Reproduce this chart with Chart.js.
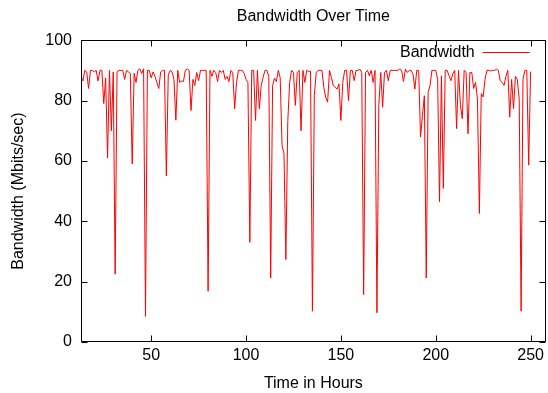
<!DOCTYPE html>
<html>
<head>
<meta charset="utf-8">
<title>Bandwidth Over Time</title>
<script src="https://cdn.jsdelivr.net/npm/chart.js@4.4.1/dist/chart.umd.min.js"></script>
<style>
  html, body { margin: 0; padding: 0; background: #fff; }
  #wrap { width: 548px; height: 393px; }
</style>
</head>
<body>
<div id="wrap"><canvas id="grafico" width="548" height="393"></canvas></div>
<script>
// hora inicial da serie (um ponto por hora)
const startHour = 13;
const bandwidth = [
  88, 86.5, 90, 89.5, 84, 90, 90, 89.5, 90, 86.5,
  90, 90, 79, 87.5, 61, 90, 70, 89.5, 22.5, 89.5,
  90, 90, 90, 87, 90, 89.5, 89, 59, 89, 86,
  90, 90.5, 89, 90.5, 8.5, 90, 90, 87.5, 89.5, 88,
  86, 84, 89.5, 90, 90, 55, 88.5, 90, 89.5, 87,
  73.5, 90, 86, 86.5, 86.3, 90, 90.5, 90, 76.7, 87,
  85, 89.3, 86.6, 90, 90, 90, 90, 16.8, 90, 88,
  90, 89.3, 86.3, 90, 89.3, 90, 87, 88, 86.3, 90,
  89.3, 77.3, 86, 90, 90, 90, 89, 87, 86, 33,
  90, 90, 73.4, 90, 77.3, 85, 87.7, 90, 90, 88,
  21.2, 85, 87.4, 86.3, 90, 87.6, 65, 62.4, 27.3, 73,
  86, 90, 89.3, 78.4, 89.3, 90, 70, 90, 86, 90,
  89.7, 89.7, 10.2, 81.6, 89.3, 90, 90, 90, 84.4, 81,
  79.5, 90, 87.7, 85, 84.4, 83.8, 85.5, 73.4, 86, 90,
  90, 80, 90, 90, 86.6, 90, 90, 90.4, 89.3, 15.7,
  89.3, 90, 88.2, 90, 86, 90, 9.7, 78.4, 89.3, 77.8,
  89.3, 90, 86.6, 90, 90, 90, 90, 90, 90.4, 90,
  86.3, 90.4, 89.3, 90, 90, 88.8, 83.8, 90, 90, 67.9,
  75, 81.6, 21.2, 82.7, 85, 90, 90, 90, 87.1, 46.5,
  88.2, 50.9, 90, 90, 88.2, 86.6, 88.8, 90, 70.7, 90,
  78.4, 74, 90, 89.3, 69, 89.3, 89.3, 84, 86, 80.5,
  42.6, 82.3, 81.2, 87.1, 90, 90, 89.8, 90, 90, 90.4,
  90, 86.6, 86, 85, 88, 90, 74.5, 87, 77.3, 88,
  87, 80.5, 10.2, 87, 90, 90, 58.6, 89.6
];
const xRange = [13, 258];
const yRange = [0, 100];
const xTicks = [50, 100, 150, 200, 250];
const yTicks = [0, 20, 40, 60, 80, 100];

const fonte = '"Liberation Sans", Arial, sans-serif';

const pontos = bandwidth.map((v, i) => ({ x: startHour + i, y: v }));

// moldura com ticks para dentro, estilo gnuplot
const moldura = {
  id: 'moldura',
  afterDatasetsDraw(chart) {
    const { ctx, chartArea: a, scales: { x, y } } = chart;
    const L = Math.round(a.left) + 0.5, R = Math.round(a.right) - 0.5;
    const T = Math.round(a.top) + 0.5, B = Math.round(a.bottom) - 0.5;
    ctx.save();
    ctx.strokeStyle = '#000';
    ctx.lineWidth = 1;
    ctx.beginPath();
    ctx.rect(L, T, R - L, B - T);
    yTicks.forEach(v => {
      const p = Math.round(y.getPixelForValue(v)) + 0.5;
      ctx.moveTo(L, p); ctx.lineTo(L + 6, p);
      ctx.moveTo(R, p); ctx.lineTo(R - 6, p);
    });
    xTicks.forEach(v => {
      const p = Math.round(x.getPixelForValue(v)) + 0.5;
      ctx.moveTo(p, B); ctx.lineTo(p, B - 6);
      ctx.moveTo(p, T); ctx.lineTo(p, T + 6);
    });
    ctx.stroke();
    ctx.restore();
  }
};

// legenda dentro do grafico (texto e depois a linha)
const legenda = {
  id: 'legenda',
  afterDraw(chart) {
    const { ctx, chartArea: a } = chart;
    const ds = chart.data.datasets[0];
    const yy = Math.round(a.top + 12) + 0.5;
    ctx.save();
    ctx.font = '16px ' + fonte;
    ctx.fillStyle = '#000';
    ctx.textAlign = 'right';
    ctx.textBaseline = 'middle';
    ctx.fillText(ds.label, a.right - 71, yy);
    ctx.strokeStyle = ds.borderColor;
    ctx.lineWidth = 1;
    ctx.beginPath();
    ctx.moveTo(a.right - 63, yy);
    ctx.lineTo(a.right - 16, yy);
    ctx.stroke();
    ctx.restore();
  }
};

Chart.defaults.font.family = fonte;
Chart.defaults.font.size = 16;
Chart.defaults.color = '#000';

new Chart(document.getElementById('grafico'), {
  type: 'line',
  data: {
    datasets: [{
      label: 'Bandwidth',
      data: pontos,
      borderColor: '#ff0000',
      borderWidth: 1,
      pointRadius: 0,
      tension: 0,
      fill: false
    }]
  },
  options: {
    responsive: false,
    animation: false,
    devicePixelRatio: 1,
    layout: { padding: { left: 0, right: 1, top: 0, bottom: 0 } },
    plugins: {
      legend: { display: false },
      tooltip: { enabled: false },
      title: {
        display: true,
        text: 'Bandwidth Over Time',
        fullSize: false,
        font: { size: 16, weight: 'normal' },
        padding: { top: 7, bottom: 14 }
      }
    },
    scales: {
      x: {
        type: 'linear',
        min: xRange[0],
        max: xRange[1],
        grid: { display: false, drawTicks: false },
        border: { display: false },
        afterBuildTicks: s => { s.ticks = xTicks.map(v => ({ value: v })); },
        afterFit: s => { s.height = 51; },
        ticks: { padding: 4, maxRotation: 0 },
        title: { display: true, text: 'Time in Hours', padding: { top: 0, bottom: 0 } }
      },
      y: {
        min: yRange[0],
        max: yRange[1],
        grid: { display: false, drawTicks: false },
        border: { display: false },
        afterBuildTicks: s => { s.ticks = yTicks.map(v => ({ value: v })); },
        afterFit: s => { s.width = 81; },
        ticks: { padding: 9 },
        title: { display: true, text: 'Bandwidth (Mbits/sec)', padding: { top: 9, bottom: 0 } }
      }
    }
  },
  plugins: [moldura, legenda]
});
</script>
</body>
</html>
